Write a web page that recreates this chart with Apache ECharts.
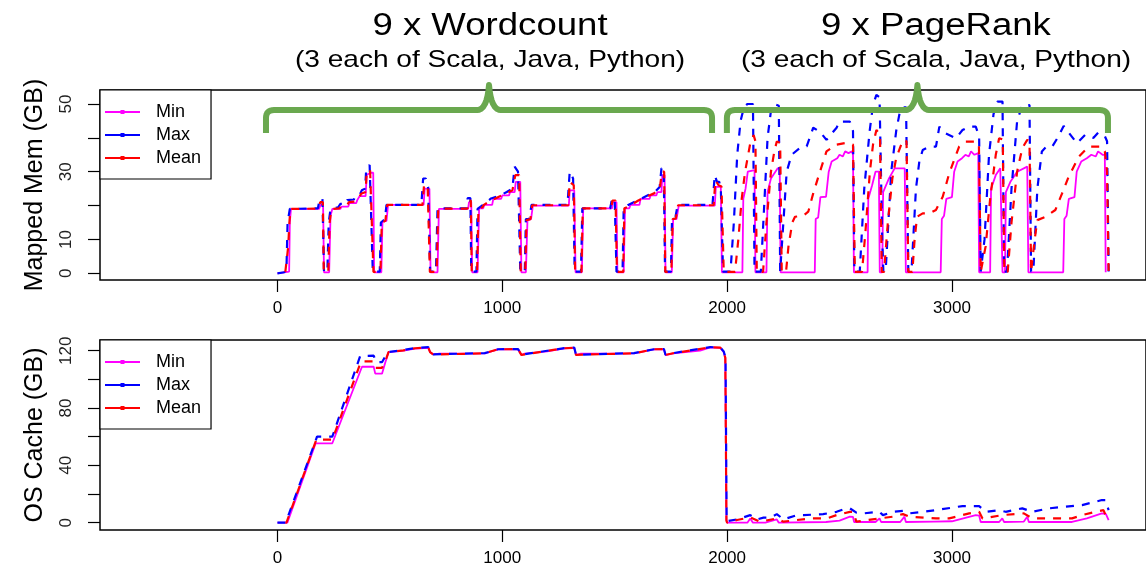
<!DOCTYPE html>
<html>
<head>
<meta charset="utf-8">
<script src="https://cdn.jsdelivr.net/npm/echarts@6/dist/echarts.min.js"></script>
<style>
  html, body { margin: 0; padding: 0; background: #fff; }
  #chart { width: 1146px; height: 572px; }
</style>
</head>
<body>
<div id="chart"></div>
<script>
const xTicks = [0, 1000, 2000, 3000];
const memTicks = [0, 10, 20, 30, 40, 50];
const memLabels = [0, 10, 30, 50];
const cacheTicks = [0, 20, 40, 60, 80, 100, 120];
const cacheLabels = [0, 40, 80, 120];
const seriesNames = ['Min', 'Max', 'Mean'];
const groupTitles = ['9 x Wordcount', '9 x PageRank'];
const groupSubtitles = ['(3 each of Scala, Java, Python)', '(3 each of Scala, Java, Python)'];
const braceSpans = [[-51, 1933], [1999, 3694]];

// mapped memory (GB), [seconds, value]
const memMin = [
  [0,0],[30,0.3],[52,0.5],[55,15],[60,19],[185,19],[192,20.2],[203,20.2],[207,0.3],[230,0.3],[236,17],[244,19],
  [280,19],[285,19.7],[315,19.7],[320,20.7],[350,20.7],[355,21.6],[362,21.6],[366,22.8],[392,22.8],[397,29],[413,29.7],[426,29.7],[430,0.3],
  [462,0.3],[467,15.2],[485,15.5],[492,20.2],[650,20.2],[655,25],[676,25],[681,0.3],[712,0.3],[718,19],[848,19],[852,21],[862,21],[866,0.3],
  [890,0.3],[897,19.2],[915,19.2],[920,20.2],[955,20.2],[960,22],[995,22],[1000,23],[1030,23],[1035,24],[1055,24],[1060,27],[1080,27],[1085,0.3],
  [1105,0.3],[1112,15.7],[1128,16],[1136,20],[1296,20],[1300,24.5],[1320,24.5],[1326,0.3],[1354,0.3],[1360,19.2],[1488,19.2],[1492,21],[1508,21],[1512,0.3],
  [1540,0.3],[1546,19.2],[1565,19.2],[1570,20.2],[1610,20.2],[1615,22],[1655,22],[1660,23],[1685,23],[1690,24],[1708,24],[1712,29],[1722,29],[1726,0.3],
  [1754,0.3],[1760,16],[1775,16],[1785,20],[1945,20],[1950,25.5],[1972,25.5],[1977,0.3],
  [2068,0.3],[2072,22],[2082,25],[2092,30],[2122,30.5],[2126,0.3],[2175,0.3],[2180,24],[2195,28],[2225,31],[2234,31],[2238,0.3],
  [2390,0.3],[2394,16],[2405,16.5],[2415,22.5],[2440,22.6],[2452,30],[2465,33],[2490,34],[2500,35],[2515,34.5],[2525,36],[2540,35.5],[2555,36],[2560,35],[2564,0.3],
  [2625,0.3],[2628,22],[2645,26],[2660,30],[2675,30],[2679,0.3],[2690,0.3],[2694,24],[2720,28],[2745,31],[2790,31],[2795,0.3],
  [2950,0.3],[2955,16],[2965,17],[2975,22],[3000,22.5],[3010,30],[3025,33],[3045,34],[3060,35],[3075,34.5],[3085,36],[3100,35],[3117,35.5],[3121,0.3],
  [3170,0.3],[3174,25],[3195,29],[3215,31],[3222,31],[3225,0.3],[3236,0.3],[3240,24],[3260,27],[3290,30],[3335,31.5],[3340,0.3],
  [3495,0.3],[3500,16],[3510,17],[3520,22],[3545,22.5],[3555,30],[3575,33],[3600,34],[3620,35],[3640,34.5],[3650,36],[3670,35],[3680,35],[3684,0.3]
];
const memMax = [
  [0,0],[30,0.3],[40,1],[45,15],[55,19],[180,19.2],[188,22],[200,22],[204,10],[207,0.5],[222,0.5],[228,15],[236,19],
  [270,19.5],[280,20.5],[305,20.5],[310,21.6],[340,21.8],[345,22.6],[365,23],[375,24.5],[390,25],[395,31],[410,32],[418,32],[424,0.5],
  [455,0.5],[460,15],[478,16],[485,20.2],[640,20.2],[648,28],[660,28],[670,25.5],[676,10],[679,0.5],[705,0.5],[712,19.2],[842,19.2],[846,22.2],[858,22.2],[862,0.5],
  [885,0.5],[890,19],[910,20],[930,21],[950,22.1],[990,23],[1020,24],[1045,25],[1055,31.5],[1070,30],[1080,0.5],
  [1100,0.5],[1105,16],[1120,16],[1130,20.2],[1290,20.2],[1300,30],[1315,28],[1322,0.5],[1350,0.5],[1356,19.2],[1480,19.2],[1488,22],[1500,22],[1508,0.5],
  [1535,0.5],[1540,19.2],[1560,20.2],[1600,21.5],[1620,22.1],[1650,23.1],[1680,24.1],[1700,25.5],[1708,31],[1718,31],[1724,0.5],
  [1750,0.5],[1755,16],[1770,16.5],[1780,20.2],[1935,20.2],[1945,29],[1955,27],[1965,27],[1972,25],[1982,0.5],
  [2015,0.5],[2030,15],[2045,35],[2060,45],[2075,49],[2090,50],[2115,50],[2122,0.5],[2150,0.5],[2165,20],[2180,40],[2195,48],[2210,50],[2230,49.5],[2236,0.5],
  [2240,0.5],[2265,30],[2287,35],[2324,37],[2354,37.5],[2383,43],[2413,41.8],[2442,39.4],[2487,43],[2501,44.8],[2546,44.8],[2560,42],[2566,0.5],
  [2590,0.5],[2610,25],[2634,42],[2649,49.7],[2664,52.7],[2678,52],[2690,10],[2695,0.5],[2705,0.5],[2730,30],[2752,42],[2767,47.2],[2782,49],[2796,49],[2802,20],[2806,0.5],
  [2820,0.5],[2840,25],[2855,33],[2870,36.4],[2900,37.4],[2929,37.4],[2944,43.3],[2973,41.3],[3018,39.9],[3047,42.3],[3077,43.3],[3106,43.3],[3121,40.4],[3128,0.5],
  [3145,10],[3165,35],[3185,47],[3202,50.7],[3225,50.7],[3232,0.5],[3245,0.5],[3265,25],[3290,45],[3313,49.7],[3345,49.7],[3352,0.5],
  [3362,0.5],[3380,25],[3400,36],[3420,37.4],[3446,37.4],[3470,40],[3497,43.5],[3534,40.3],[3556,38.4],[3593,40.9],[3630,40],[3650,41.5],[3680,40.5],[3690,39],[3697,0.5]
];
const memMean = [
  [0,0],[35,0.4],[48,8],[53,15],[58,19],[183,19.1],[190,21],[202,21],[206,0.4],[226,0.4],[232,15],[240,19],
  [275,19.2],[283,20],[310,20.2],[318,21],[345,21.2],[352,22],[365,22.5],[372,23.5],[392,24],[397,30],[412,30.5],[420,30.5],[427,0.4],
  [458,0.4],[464,15],[480,15.5],[488,20.2],[645,20.2],[652,26],[668,26],[678,0.4],[708,0.4],[715,19.1],[845,19.1],[850,21.5],[860,21.5],[864,0.4],
  [888,0.4],[894,19.1],[912,19.5],[918,20.2],[950,21.5],[985,22.6],[1015,23.5],[1045,24.5],[1058,29],[1075,29],[1082,0.4],
  [1102,0.4],[1108,15.7],[1125,16],[1133,20.1],[1293,20.1],[1300,27],[1318,26],[1324,0.4],[1352,0.4],[1358,19.2],[1484,19.2],[1490,21.5],[1504,21.5],[1510,0.4],
  [1538,0.4],[1543,19.2],[1565,19.8],[1605,21.5],[1640,22.6],[1675,23.6],[1700,24.8],[1710,30],[1720,30],[1725,0.4],
  [1752,0.4],[1758,16],[1772,16.2],[1782,20.1],[1940,20.1],[1948,27.5],[1962,26],[1975,25.6],[1985,0.4],
  [2035,0.4],[2050,10],[2065,22],[2080,30],[2103,38.4],[2118,40.8],[2126,39],[2132,0.4],[2160,0.4],[2175,15],[2195,30],[2210,36],[2221,38.9],[2236,38.5],[2243,0.4],
  [2262,0.4],[2273,8],[2290,15],[2302,16.7],[2339,17],[2361,18.2],[2383,23.6],[2413,30],[2442,36],[2487,38],[2530,38.5],[2560,38],[2568,0.4],
  [2600,0.4],[2615,12],[2635,30],[2649,38],[2664,42.3],[2680,41],[2688,0.4],[2698,0.4],[2715,15],[2735,28],[2752,34],[2782,39.4],[2798,39],[2806,0.4],
  [2824,0.4],[2834,10],[2845,16.7],[2870,17.7],[2900,17.7],[2929,18.7],[2959,22.6],[2988,29.5],[3032,37.4],[3062,38.9],[3106,38.9],[3120,38],[3128,0.4],
  [3150,8],[3170,22],[3195,35],[3210,39.9],[3226,39.5],[3233,0.4],[3248,0.4],[3265,15],[3290,30],[3313,37],[3335,39.4],[3345,39],[3352,0.4],
  [3360,0.4],[3368,10],[3380,15.7],[3416,16.7],[3460,18.7],[3490,23.6],[3519,28.5],[3564,34.4],[3608,37.4],[3667,37.4],[3680,36],[3690,30],[3697,0.4]
];

// OS cache (GB), [seconds, value]
const cacheMin = [
  [0,0],[44,0],[170,55.4],[244,55.4],[376,108.8],[428,108.8],[435,104],[465,104],[480,112],[494,119],[560,120],[612,121.5],[671,122],[679,119],[693,117.5],
  [720,118],[922,118.1],[981,120.9],[1070,121],[1085,117],[1100,118],[1200,119.5],[1276,121.6],[1320,122],[1328,117],[1350,118],[1586,118.1],[1675,120.9],[1719,121],[1726,117],
  [1760,118.1],[1880,120],[1925,122.3],[1970,122],[1985,119],[1992,115],[1997,2],[2000,0],[2090,0],[2103,3],[2115,0],[2170,0],[2221,2.3],[2230,0],
  [2440,0.5],[2500,1.5],[2546,4.2],[2560,4],[2565,0.5],[2660,0.5],[2678,3],[2685,0.5],[2770,0.5],[2789,4.2],[2795,0.5],[2920,0.8],[3000,1],[3106,5.3],[3121,5],[3128,0.5],
  [3210,0.5],[3224,3],[3232,0.5],[3320,0.8],[3335,4.2],[3342,0.5],[3534,0.5],[3600,3],[3667,6.5],[3685,6],[3697,1.8]
];
const cacheMax = [
  [0,0],[37,0],[176,60],[244,60],[368,116.3],[428,116.5],[440,112],[465,112],[490,119],[560,120.5],[612,121.8],[671,122.5],[679,119],[693,117.5],
  [922,118.3],[981,121],[1070,121.2],[1085,117.2],[1276,121.8],[1320,122.2],[1328,117.2],[1586,118.3],[1675,121],[1719,121.2],[1726,117.2],
  [1760,118.3],[1925,122.5],[1970,122.2],[1985,119.5],[1993,115],[1998,1],[2000,0],[2044,2.3],[2103,5.3],[2133,2.3],[2162,3.5],[2191,3.5],[2221,6],[2251,2.3],
  [2310,5.3],[2340,5.3],[2427,6],[2487,7.6],[2531,10],[2546,10],[2575,7],[2605,6.5],[2678,7.6],[2693,5.3],[2737,7.6],[2782,8.3],[2811,6.5],[2870,7.6],[2929,8.8],
  [3047,11.6],[3121,11.6],[3150,7.6],[3210,8.8],[3239,7.6],[3313,10],[3357,7.6],[3431,10],[3579,12.3],[3667,15.8],[3682,15.8],[3697,8.8]
];
const cacheMean = [
  [0,0],[40,0],[173,58],[244,58],[372,112.5],[428,112.5],[437,108],[465,108],[485,115],[494,119],[560,120.2],[612,121.7],[671,122.2],[679,119],[693,117.3],
  [922,118.2],[981,121],[1070,121.1],[1085,117.1],[1276,121.7],[1320,122.1],[1328,117.1],[1586,118.2],[1675,121],[1719,121.1],[1726,117.1],
  [1760,118.2],[1925,122.4],[1970,122.1],[1985,119.2],[1992,115],[1997,1.5],[2000,0],[2044,1.9],[2103,3.7],[2147,0.7],[2221,3],[2251,0.7],
  [2369,3],[2443,3],[2487,5.3],[2546,7.6],[2561,7.6],[2575,0.7],[2678,3],[2737,4.2],[2782,6],[2811,4.2],[2929,3],[2988,3],[3077,6.5],[3121,7.6],[3136,3],
  [3224,5.3],[3320,6.5],[3357,3],[3431,3],[3534,3],[3579,5.3],[3638,7.6],[3674,8.8],[3690,3]
];

const FONT = 'Liberation Sans, Arial, sans-serif';
const colors = ['#ff00ff', '#0000ff', '#ff0000'];
// legend key: thin line with a small point in the middle
const legendIcon = 'path://M0,1.1L35,1.1L35,2.9L0,2.9Z M15.5,0L19.5,0L19.5,4L15.5,4Z';

const chart = echarts.init(document.getElementById('chart'));

const xAxisFor = (gridIndex) => ({
  gridIndex,
  type: 'value',
  min: -789.3,
  max: 3863.2,
  axisLine: { show: false, onZero: false },
  splitLine: { show: false },
  axisTick: { show: true, length: 12, customValues: xTicks, lineStyle: { color: '#000', width: 1.2 } },
  axisLabel: {
    customValues: xTicks,
    formatter: (v) => String(v),
    fontSize: 17,
    fontFamily: FONT,
    color: '#000',
    margin: 20
  }
});

const yAxisFor = (gridIndex, name, min, max, ticks, labels) => ({
  gridIndex,
  type: 'value',
  min,
  max,
  name,
  nameLocation: 'middle',
  nameGap: 52,
  nameTextStyle: { fontSize: 25, fontFamily: FONT, color: '#000' },
  axisLine: { show: false, onZero: false },
  splitLine: { show: false },
  axisTick: { show: true, length: 12, customValues: ticks, lineStyle: { color: '#000', width: 1.2 } },
  axisLabel: {
    customValues: labels,
    formatter: (v) => String(v),
    rotate: 90,
    fontSize: 17,
    fontFamily: FONT,
    color: '#222',
    margin: 25
  }
});

const legendFor = (top) => ({
  left: 100,
  top,
  orient: 'vertical',
  data: seriesNames.map((name) => ({ name, icon: legendIcon })),
  backgroundColor: '#fff',
  borderColor: '#000',
  borderWidth: 1.2,
  borderRadius: 0,
  padding: [13, 10, 12, 5],
  itemWidth: 35,
  itemHeight: 4,
  itemGap: 5,
  textStyle: { fontSize: 18, fontFamily: FONT, color: '#000', padding: [0, 0, 0, 11] }
});

const lineSeries = (name, idx, data, axisIndex) => ({
  name,
  type: 'line',
  xAxisIndex: axisIndex,
  yAxisIndex: axisIndex,
  data,
  symbol: 'none',
  showSymbol: false,
  animation: false,
  color: colors[idx],
  lineStyle: idx === 0
    ? { color: colors[idx], width: 1.8, type: 'solid' }
    : { color: colors[idx], width: 2.2, type: [8, 8], dashOffset: idx === 2 ? 8 : 0 }
});

chart.setOption({
  animation: false,
  grid: [
    { left: 100, right: -5, top: 90, height: 190, show: true, borderColor: '#000', borderWidth: 1.5 },
    { left: 100, right: -5, top: 340, height: 190, show: true, borderColor: '#000', borderWidth: 1.5 }
  ],
  xAxis: [xAxisFor(0), xAxisFor(1)],
  yAxis: [
    yAxisFor(0, 'Mapped Mem (GB)', -1.98, 54.13, memTicks, memLabels),
    yAxisFor(1, 'OS Cache (GB)', -5.09, 127.47, cacheTicks, cacheLabels)
  ],
  legend: [legendFor(90), legendFor(340)],
  series: [
    lineSeries('Min', 0, memMin, 0),
    lineSeries('Max', 1, memMax, 0),
    lineSeries('Mean', 2, memMean, 0),
    lineSeries('Min', 0, cacheMin, 1),
    lineSeries('Max', 1, cacheMax, 1),
    lineSeries('Mean', 2, cacheMean, 1)
  ]
});

// quadratic curve sampled into points for a polyline
const quad = (p0, c, p1, n = 8) => {
  const pts = [];
  for (let i = 1; i <= n; i++) {
    const t = i / n;
    const a = (1 - t) * (1 - t), b = 2 * (1 - t) * t, d = t * t;
    pts.push([a * p0[0] + b * c[0] + d * p1[0], a * p0[1] + b * c[1] + d * p1[1]]);
  }
  return pts;
};

// braces and group titles over the memory panel
const titleX = [490, 936];
const graphics = [];
braceSpans.forEach((span, i) => {
  const [xL, yH] = chart.convertToPixel({ gridIndex: 0 }, [span[0], 48.2]);
  const [xR, yE] = chart.convertToPixel({ gridIndex: 0 }, [span[1], 41.4]);
  const yT = chart.convertToPixel({ gridIndex: 0 }, [0, 55.6])[1];
  const xC = (xL + xR) / 2;
  const r = 8;
  let pts = [[xL, yE], [xL, yH + r]];
  pts = pts.concat(quad([xL, yH + r], [xL, yH], [xL + r, yH]));
  pts.push([xC - 12, yH]);
  pts = pts.concat(quad([xC - 12, yH], [xC - 2, yH], [xC, yT]));
  pts = pts.concat(quad([xC, yT], [xC + 2, yH], [xC + 12, yH]));
  pts.push([xR - r, yH]);
  pts = pts.concat(quad([xR - r, yH], [xR, yH], [xR, yH + r]));
  pts.push([xR, yE]);
  graphics.push({
    type: 'polyline',
    z: 100,
    shape: { points: pts },
    style: { fill: null, stroke: '#6aa84f', lineWidth: 6, lineJoin: 'round' }
  });
  graphics.push({
    type: 'text', x: titleX[i], y: 26, scaleX: 1.18,
    style: { text: groupTitles[i], font: `31px ${FONT}`, fill: '#000', align: 'center', verticalAlign: 'middle' }
  });
  graphics.push({
    type: 'text', x: titleX[i], y: 60, scaleX: 1.17,
    style: { text: groupSubtitles[i], font: `24px ${FONT}`, fill: '#000', align: 'center', verticalAlign: 'middle' }
  });
});
chart.setOption({ graphic: graphics });
</script>
</body>
</html>
